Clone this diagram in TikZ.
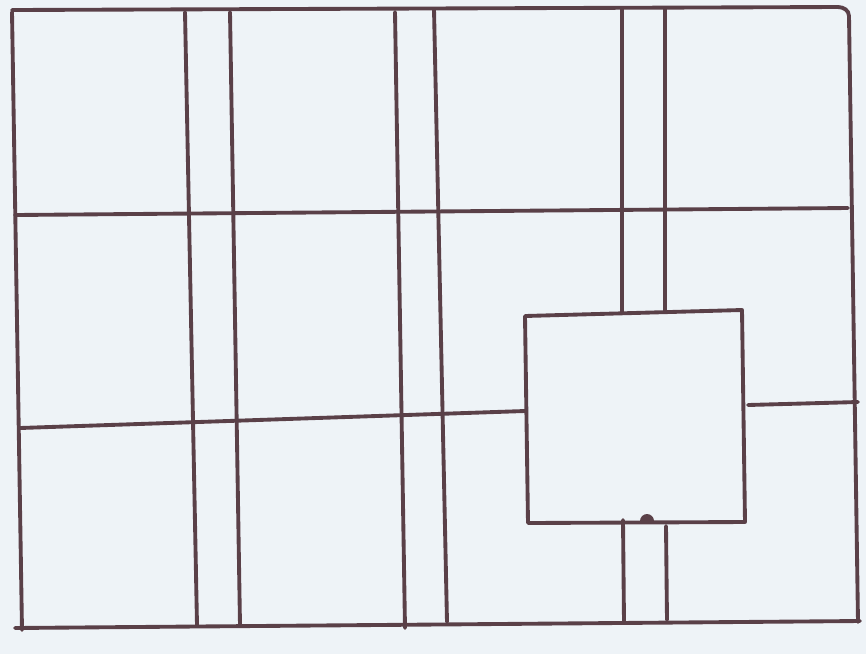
\documentclass[tikz,border=0pt]{standalone}
\definecolor{paper}{HTML}{EEF3F7}
\definecolor{ink}{HTML}{5A4048}
\begin{document}
\begin{tikzpicture}[x=0.02cm,y=-0.02cm,
  pen/.style={draw=ink,line width=2.2pt,line cap=round,line join=round}]
\fill[paper] (0,0) rectangle (866,654);
\useasboundingbox (0,0) rectangle (866,654);
% outer frame
\draw[pen] (12,10) -- (838,7) to[out=0,in=90] (849,16) -- (858,622);
\draw[pen] (12,12) -- (22,630);
\draw[pen] (15,628) -- (860,621);
% horizontal lines
\draw[pen] (15,215) -- (848,208);
\draw[pen] (20,428) -- (525,411);
\draw[pen] (748,405) -- (858,402);
% vertical lines
\draw[pen] (185,12) -- (197,625);
\draw[pen] (230,12) -- (240,625);
\draw[pen] (395,12) -- (405,628);
\draw[pen] (434,9) -- (447,622);
\draw[pen] (622,8) -- (622,313);
\draw[pen] (665,8) -- (665,312);
\draw[pen] (623,520) -- (624,622);
\draw[pen] (666,526) -- (667,620);
% inner box
\draw[pen] (525,316) -- (742,310) -- (745,522) -- (528,523) -- cycle;
\fill[ink] (640,521) arc[start angle=180,end angle=360,radius=7] -- cycle;
\end{tikzpicture}
\end{document}
